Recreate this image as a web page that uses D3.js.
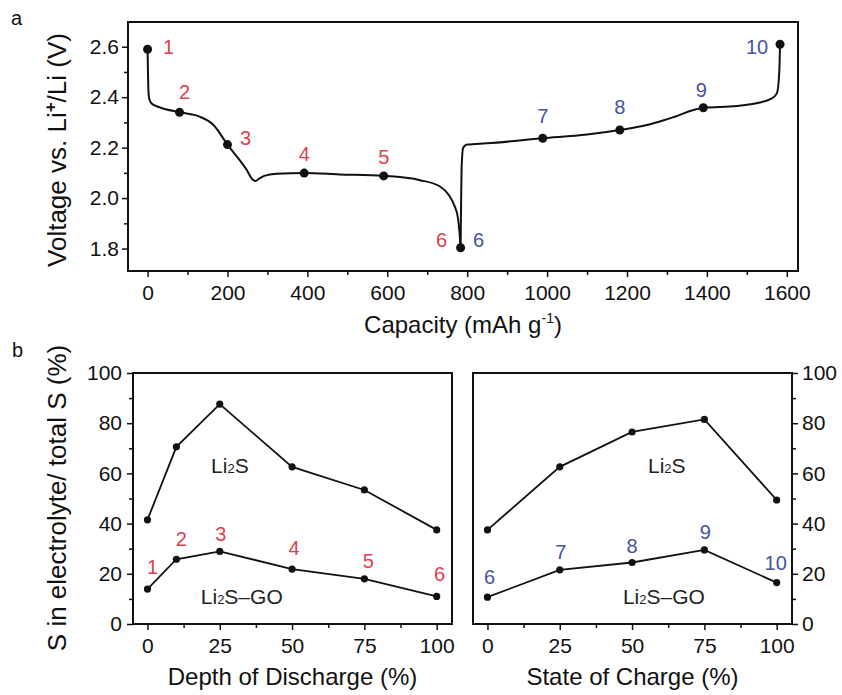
<!DOCTYPE html>
<html>
<head>
<meta charset="utf-8">
<script src="https://cdn.jsdelivr.net/npm/d3@7"></script>
<style>
  body { margin: 0; background: #fff; }
  svg { font-family: Arial, "Liberation Sans", sans-serif; }
  .frame { fill: none; stroke: #111; stroke-width: 2; }
  .axis path.domain { display: none; }
  .axis line { stroke: #111; stroke-width: 1.5; }
  .axis text { font-size: 21px; fill: #111; }
</style>
</head>
<body>
<svg id="chart" width="842" height="695"></svg>
<script>
// ---- panel a : voltage profile ----
var dischargeCap = [0, 1, 2, 4, 10, 30, 80, 130, 165, 200, 248, 262, 270, 280, 292, 323, 392, 480, 591, 682, 732, 755, 768, 777, 781, 783.5];
var dischargeV   = [2.59, 2.50, 2.43, 2.395, 2.375, 2.36, 2.34, 2.323, 2.29, 2.212, 2.112, 2.075, 2.068, 2.078, 2.088, 2.096, 2.099, 2.094, 2.088, 2.071, 2.046, 2.01, 1.97, 1.92, 1.86, 1.803];
var chargeCap = [783.5, 784.5, 786, 790, 800, 849, 989, 1100, 1182, 1250, 1307, 1391, 1475, 1530, 1560, 1575, 1580, 1582, 1583];
var chargeV   = [1.803, 1.95, 2.12, 2.2, 2.212, 2.217, 2.237, 2.252, 2.27, 2.29, 2.316, 2.358, 2.365, 2.378, 2.393, 2.415, 2.47, 2.54, 2.61];
var pointCap = [0, 80, 200, 392, 591, 783.5, 989, 1182, 1391, 1583];
var pointV   = [2.59, 2.34, 2.212, 2.099, 2.088, 1.803, 2.237, 2.27, 2.358, 2.61];
var pointNames = ["1", "2", "3", "4", "5", "6", "7", "8", "9", "10"];
var capTicks = [0, 200, 400, 600, 800, 1000, 1200, 1400, 1600];
var voltTicks = [1.8, 2.0, 2.2, 2.4, 2.6];

// ---- panel b : sulfur in electrolyte ----
var dod = [0, 10, 25, 50, 75, 100];
var dodLi2S = [41.5, 70.6, 87.6, 62.6, 53.4, 37.5];
var dodGO   = [13.9, 25.8, 28.9, 21.9, 18, 11];
var dodNames = ["1", "2", "3", "4", "5", "6"];
var soc = [0, 25, 50, 75, 100];
var socLi2S = [37.5, 62.6, 76.5, 81.5, 49.4];
var socGO   = [10.7, 21.6, 24.5, 29.5, 16.5];
var socNames = ["6", "7", "8", "9", "10"];
var pctTicks = [0, 20, 40, 60, 80, 100];
var stateTicks = [0, 25, 50, 75, 100];

var red = "#e0404f", blue = "#4652a3";
var svg = d3.select("#chart");

function zip(a, b) { return a.map(function(v, i) { return [v, b[i]]; }); }

// ===== panel a =====
var ax = d3.scaleLinear().domain([-49, 1628]).range([128, 798]);
var ay = d3.scaleLinear().domain([1.711, 2.698]).range([271, 22]);

svg.append("g").attr("class", "axis").attr("transform", "translate(0,271)")
  .call(d3.axisBottom(ax).tickValues(d3.range(100, 1600, 200)).tickSize(4).tickFormat(""));
svg.append("g").attr("class", "axis").attr("transform", "translate(0,271)")
  .call(d3.axisBottom(ax).tickValues(capTicks).tickSize(6).tickPadding(8).tickFormat(d3.format("d")));
svg.append("g").attr("class", "axis").attr("transform", "translate(128,0)")
  .call(d3.axisLeft(ay).tickValues([1.9, 2.1, 2.3, 2.5]).tickSize(4).tickFormat(""));
svg.append("g").attr("class", "axis").attr("transform", "translate(128,0)")
  .call(d3.axisLeft(ay).tickValues(voltTicks).tickSize(6).tickPadding(3).tickFormat(d3.format(".1f")));
svg.append("rect").attr("class", "frame").attr("x", 128).attr("y", 22).attr("width", 670).attr("height", 249);

var aLine = d3.line().x(function(d) { return ax(d[0]); }).y(function(d) { return ay(d[1]); })
  .curve(d3.curveMonotoneX);
[zip(dischargeCap, dischargeV), zip(chargeCap, chargeV)].forEach(function(seg) {
  svg.append("path").attr("d", aLine(seg)).attr("fill", "none").attr("stroke", "#111").attr("stroke-width", 2);
});
svg.selectAll(".apt").data(zip(pointCap, pointV)).enter().append("circle")
  .attr("cx", function(d) { return ax(d[0]); }).attr("cy", function(d) { return ay(d[1]); })
  .attr("r", 4.5).attr("fill", "#111");

// label offsets (px) from each marker
var aOff = [[21, -2], [5, -20], [18, -7], [0, -19], [0, -19], [-19, -8], [0, -22], [0, -23], [-2, -18], [-23, 3]];
pointNames.forEach(function(n, i) {
  var col = i < 6 ? red : blue;
  svg.append("text").attr("x", ax(pointCap[i]) + aOff[i][0]).attr("y", ay(pointV[i]) + aOff[i][1])
    .attr("text-anchor", "middle").attr("dy", "0.35em").attr("font-size", 20).attr("fill", col).text(n);
});
// second "6" for the charge branch
svg.append("text").attr("x", ax(pointCap[5]) + 18).attr("y", ay(pointV[5]) - 8)
  .attr("text-anchor", "middle").attr("dy", "0.35em").attr("font-size", 20).attr("fill", blue).text("6");

var vt = svg.append("text").attr("transform", "translate(66,150) rotate(-90)")
  .attr("text-anchor", "middle").attr("font-size", 26).attr("fill", "#111");
vt.append("tspan").text("Voltage vs. Li");
vt.append("tspan").attr("dy", -10).attr("font-size", 17).attr("font-weight", "bold").text("+");
vt.append("tspan").attr("dy", 10).text("/Li (V)");

var ct = svg.append("text").attr("x", 463).attr("y", 333).attr("text-anchor", "middle")
  .attr("font-size", 24).attr("fill", "#111");
ct.append("tspan").text("Capacity (mAh g");
ct.append("tspan").attr("dy", -10).attr("font-size", 14).text("-1");
ct.append("tspan").attr("dy", 10).text(")");

svg.append("text").attr("x", 11).attr("y", 25).attr("font-size", 20).attr("fill", "#111").text("a");
svg.append("text").attr("x", 12).attr("y", 357).attr("font-size", 20).attr("fill", "#111").text("b");

// ===== panel b =====
var by = d3.scaleLinear().domain([0, 100]).range([624, 373]);

function li2s(g, x, y, suffix) {
  var t = g.append("text").attr("x", x).attr("y", y).attr("text-anchor", "middle").attr("dy", "0.35em")
    .attr("font-size", 21).attr("fill", "#222");
  t.append("tspan").text("Li");
  t.append("tspan").attr("font-size", 13).text("2");
  t.append("tspan").text("S" + suffix);
}

function panel(opt) {
  var x = d3.scaleLinear().domain([-5, 105.3]).range([opt.x0, opt.x1]);
  var g = svg.append("g");
  g.append("g").attr("class", "axis").attr("transform", "translate(0,624)")
    .call(d3.axisBottom(x).tickValues([12.5, 37.5, 62.5, 87.5]).tickSize(4).tickFormat(""));
  g.append("g").attr("class", "axis").attr("transform", "translate(0,624)")
    .call(d3.axisBottom(x).tickValues(stateTicks).tickSize(6).tickPadding(8).tickFormat(d3.format("d")));
  var side = opt.right ? d3.axisRight : d3.axisLeft;
  var yx = opt.right ? opt.x1 : opt.x0;
  g.append("g").attr("class", "axis").attr("transform", "translate(" + yx + ",0)")
    .call(side(by).tickValues([10, 30, 50, 70, 90]).tickSize(4).tickFormat(""));
  g.append("g").attr("class", "axis").attr("transform", "translate(" + yx + ",0)")
    .call(side(by).tickValues(pctTicks).tickSize(6).tickPadding(opt.right ? 4 : 5).tickFormat(d3.format("d")));
  g.append("rect").attr("class", "frame").attr("x", opt.x0).attr("y", 373)
    .attr("width", opt.x1 - opt.x0).attr("height", 251);

  var line = d3.line().x(function(d) { return x(d[0]); }).y(function(d) { return by(d[1]); });
  [opt.top, opt.bot].forEach(function(vals) {
    var pts = zip(opt.xs, vals);
    g.append("path").attr("d", line(pts)).attr("fill", "none").attr("stroke", "#111").attr("stroke-width", 1.8);
    g.selectAll(null).data(pts).enter().append("circle")
      .attr("cx", function(d) { return x(d[0]); }).attr("cy", function(d) { return by(d[1]); })
      .attr("r", 3.6).attr("fill", "#111");
  });
  opt.names.forEach(function(n, i) {
    g.append("text").attr("x", x(opt.xs[i]) + opt.off[i][0]).attr("y", by(opt.bot[i]) + opt.off[i][1])
      .attr("text-anchor", "middle").attr("dy", "0.35em").attr("font-size", 20).attr("fill", opt.color).text(n);
  });
  li2s(g, x(opt.lab[0]), by(63), "");
  li2s(g, x(opt.lab[1]), by(11), "\u2013GO");
  g.append("text").attr("x", (opt.x0 + opt.x1) / 2).attr("y", 685).attr("text-anchor", "middle")
    .attr("font-size", 24).attr("fill", "#111").text(opt.title);
}

panel({ x0: 133, x1: 452, right: false, xs: dod, top: dodLi2S, bot: dodGO, names: dodNames, color: red,
  off: [[5, -22], [5, -20], [1, -17], [2, -21], [4, -18], [3, -22]], lab: [28.5, 32.6],
  title: "Depth of Discharge (%)" });
panel({ x0: 473, x1: 792, right: true, xs: soc, top: socLi2S, bot: socGO, names: socNames, color: blue,
  off: [[2, -20], [1, -18], [0, -17], [1, -18], [-1, -20]], lab: [62, 61],
  title: "State of Charge (%)" });

svg.append("text").attr("transform", "translate(66,498) rotate(-90)").attr("text-anchor", "middle")
  .attr("font-size", 26).attr("fill", "#111").text("S in electrolyte/ total S (%)");
</script>
</body>
</html>
